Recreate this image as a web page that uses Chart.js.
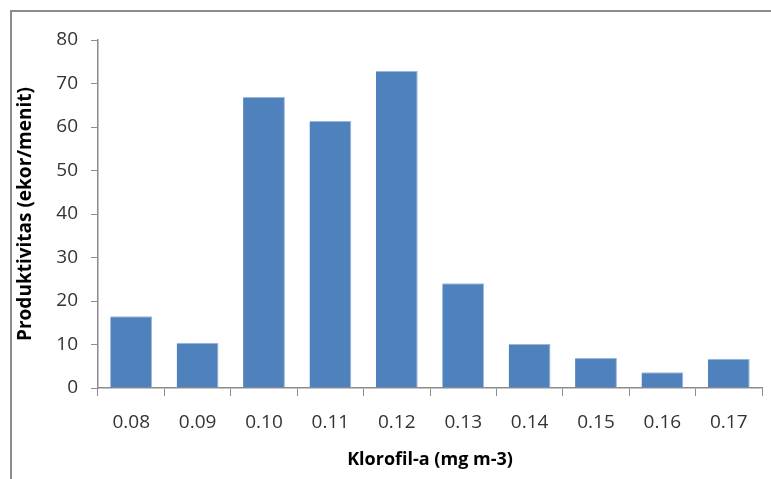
<!DOCTYPE html>
<html lang="id">
<head>
  <meta charset="UTF-8" />
  <title>Produktivitas vs Klorofil-a</title>
  <script src="https://cdn.jsdelivr.net/npm/chart.js"></script>
  <style>
    body { margin: 0; background: #fff; }
    .wrap { position: relative; width: 771px; height: 479px; overflow: hidden; }
    .frame {
      position: absolute; left: 10px; top: 10px; width: 800px; height: 520px;
      border: 2px solid #8c8c8c; pointer-events: none;
    }
  </style>
</head>
<body>
  <div class="wrap">
    <canvas id="barChart" width="771" height="479"></canvas>
    <div class="frame"></div>
  </div>

  <script>
    // data
    const categories = ['0.08', '0.09', '0.10', '0.11', '0.12', '0.13', '0.14', '0.15', '0.16', '0.17'];
    const produktivitas = [16.5, 10.4, 66.9, 61.4, 72.9, 24.1, 10.1, 6.9, 3.6, 6.7];
    const yTicks = [0, 10, 20, 30, 40, 50, 60, 70, 80];

    const FONT = "'Open Sans', 'Noto Sans', sans-serif";
    const AXIS_GRAY = '#8c8c8c';

    const ctx = document.getElementById('barChart').getContext('2d');

    new Chart(ctx, {
      type: 'bar',
      data: {
        labels: categories,
        datasets: [{
          label: 'Produktivitas',
          data: produktivitas,
          backgroundColor: '#4f81bd',
          borderColor: '#9db7da',
          borderWidth: { top: 1, right: 1, left: 0, bottom: 0 },
          barPercentage: 0.63,
          categoryPercentage: 1.0
        }]
      },
      options: {
        responsive: false,
        animation: false,
        layout: { padding: { left: 0, top: 40, right: 9, bottom: 0 } },
        plugins: {
          legend: { display: false },
          tooltip: { enabled: false }
        },
        scales: {
          x: {
            grid: {
              offset: true,
              drawOnChartArea: false,
              drawTicks: true,
              tickLength: 8,
              color: AXIS_GRAY
            },
            border: { color: AXIS_GRAY, width: 1.5 },
            ticks: {
              color: '#333',
              padding: 15,
              font: { family: FONT, size: 19 }
            },
            title: {
              display: true,
              text: 'Klorofil-a (mg m-3)',
              color: '#000',
              font: { family: FONT, size: 18, weight: 'bold' },
              padding: { top: 0, bottom: 8 }
            },
            afterFit: scale => { scale.height = 91; }
          },
          y: {
            min: 0,
            max: 80,
            afterBuildTicks: scale => {
              scale.ticks = yTicks.map(v => ({ value: v }));
            },
            grid: {
              drawOnChartArea: false,
              drawTicks: true,
              tickLength: 7,
              color: AXIS_GRAY
            },
            border: { color: AXIS_GRAY, width: 1.5 },
            ticks: {
              color: '#333',
              padding: 13,
              font: { family: FONT, size: 19 }
            },
            title: {
              display: true,
              text: 'Produktivitas (ekor/menit)',
              color: '#000',
              font: { family: FONT, size: 19, weight: 'bold' },
              padding: { top: 14, bottom: 0 }
            },
            afterFit: scale => { scale.width = 98; }
          }
        }
      }
    });
  </script>
</body>
</html>
